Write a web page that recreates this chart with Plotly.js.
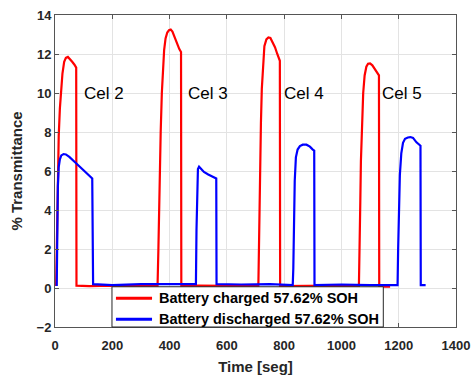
<!DOCTYPE html>
<html>
<head>
<meta charset="utf-8">
<script src="https://cdn.plot.ly/plotly-3.0.1.min.js"></script>
<style>html,body{margin:0;padding:0;background:#fff;}#chart{width:471px;height:379px;}</style>
</head>
<body>
<div id="chart"></div>
<script>
// Battery charged 57.62% SOH (time [s], % transmittance)
var chargedTime = [4,6,8,10,13,17,21,26,32,38,45,52,60,68,74,75,
  120,200,280,358,
  361,363,366,369,373,377,381,386,392,398,404,410,418,426,434,440,441,
  500,600,710,
  712,714,716,719,722,726,731,738,745,752,760,768,776,785,786,
  880,980,1061,
  1064,1066,1068,1071,1076,1081,1087,1093,1100,1108,1117,1125,1131,1132,
  1150,1170];
var chargedValue = [0.1,2,4.5,6,7.8,9.2,10.2,11,11.6,11.8,11.85,11.75,11.6,11.45,11.3,0.12,
  0.1,0.12,0.1,0.1,
  2,4,6,8,10,11.3,12.2,12.8,13.1,13.22,13.25,13.15,12.85,12.5,12.25,12.1,0.1,
  0.12,0.1,0.1,
  2,4.5,6.5,8.5,10.2,11.5,12.4,12.75,12.85,12.82,12.6,12.35,12,11.65,0.1,
  0.1,0.12,0.08,
  2,4.5,6.5,8,10,10.9,11.35,11.5,11.52,11.42,11.23,11.05,10.9,0.07,
  0.08,0.07];

// Battery discharged 57.62% SOH
var dischargedTime = [6,8,10,13,17,22,30,38,50,70,90,110,130,133,
  200,300,400,492,
  494,496,499,503,510,520,535,550,563,564,
  650,750,830,
  832,834,837,841,847,855,865,878,890,900,905,906,
  1000,1100,1196,
  1198,1200,1204,1209,1215,1222,1232,1241,1250,1262,1270,1276,1277,1294];
var dischargedValue = [0.1,3,5.2,6.2,6.6,6.8,6.87,6.85,6.72,6.45,6.18,5.9,5.62,0.2,
  0.15,0.2,0.18,0.2,
  3,5.5,6.1,6.22,6.1,5.95,5.82,5.72,5.62,0.2,
  0.18,0.2,0.15,
  1,3.5,5.5,6.7,7.1,7.28,7.35,7.35,7.25,7.1,7.05,0.15,
  0.18,0.15,0.15,
  2,4,5.8,6.9,7.45,7.65,7.72,7.74,7.7,7.47,7.36,7.3,0.15,0.15];

var seriesNames = ['Battery charged 57.62% SOH', 'Battery discharged 57.62% SOH'];
var seriesColors = ['#ff0000', '#0000ff'];

var cellLabels = ['Cel 2','Cel 3','Cel 4','Cel 5'];
var cellLabelTime = [95,457,793,1135];
var cellLabelValue = [10,10,10,10];

var xTicks = [0,200,400,600,800,1000,1200,1400];
var yTicks = [-2,0,2,4,6,8,10,12,14];

var FONT = 'Liberation Sans, Arial, sans-serif';

var traces = [
  {x: chargedTime, y: chargedValue, type: 'scatter', mode: 'lines',
   name: seriesNames[0], line: {color: seriesColors[0], width: 2.2}},
  {x: dischargedTime, y: dischargedValue, type: 'scatter', mode: 'lines',
   name: seriesNames[1], line: {color: seriesColors[1], width: 2.2}}
];

var annotations = cellLabels.map(function(t, i){
  return {x: cellLabelTime[i], y: cellLabelValue[i], xref: 'x', yref: 'y', text: t,
    showarrow: false, xanchor: 'left', yanchor: 'middle',
    font: {family: FONT, size: 17, color: '#000'}};
});

// Legend box drawn in paper coordinates (MATLAB-style compact legend)
var legBox = {x0: 0.1421, x1: 0.8187, y0: 0, y1: 0.129};
var legRowY = [0.092, 0.0247];
var legLineX = [0.152, 0.242];
var legTextX = 0.2544;

var shapes = [{type: 'rect', xref: 'paper', yref: 'paper',
  x0: legBox.x0, x1: legBox.x1, y0: legBox.y0, y1: legBox.y1,
  line: {color: '#262626', width: 1}, fillcolor: '#ffffff', layer: 'above'}];
seriesNames.forEach(function(n, i){
  shapes.push({type: 'line', xref: 'paper', yref: 'paper',
    x0: legLineX[0], x1: legLineX[1], y0: legRowY[i], y1: legRowY[i],
    line: {color: seriesColors[i], width: 3}, layer: 'above'});
  annotations.push({xref: 'paper', yref: 'paper', x: legTextX, y: legRowY[i],
    text: n, showarrow: false, xanchor: 'left', yanchor: 'middle',
    font: {family: FONT, size: 14.5, color: '#000', weight: 'bold'}});
});

var axisCommon = {
  showgrid: true, gridcolor: '#e3e3e3', gridwidth: 1,
  zeroline: false, showline: true, linecolor: '#555', linewidth: 1,
  mirror: 'ticks', ticks: 'inside', ticklen: 4, tickcolor: '#555',
  tickfont: {family: FONT, size: 13, color: '#262626', weight: 'bold'}
};

var layout = {
  width: 471, height: 379,
  margin: {l: 55, r: 15, t: 15, b: 52},
  paper_bgcolor: '#fff', plot_bgcolor: '#fff',
  showlegend: false,
  xaxis: Object.assign({}, axisCommon, {range: [0, 1400], tickvals: xTicks,
    ticklabelstandoff: 6,
    title: {text: 'Time [seg]', font: {family: FONT, size: 15, color: '#262626', weight: 'bold'}, standoff: 9}}),
  yaxis: Object.assign({}, axisCommon, {range: [-2, 14], tickvals: yTicks,
    title: {text: '% Transmittance', font: {family: FONT, size: 15, color: '#262626', weight: 'bold'}, standoff: 10}}),
  annotations: annotations,
  shapes: shapes
};

Plotly.newPlot('chart', traces, layout, {displayModeBar: false, staticPlot: true});
</script>
</body>
</html>
